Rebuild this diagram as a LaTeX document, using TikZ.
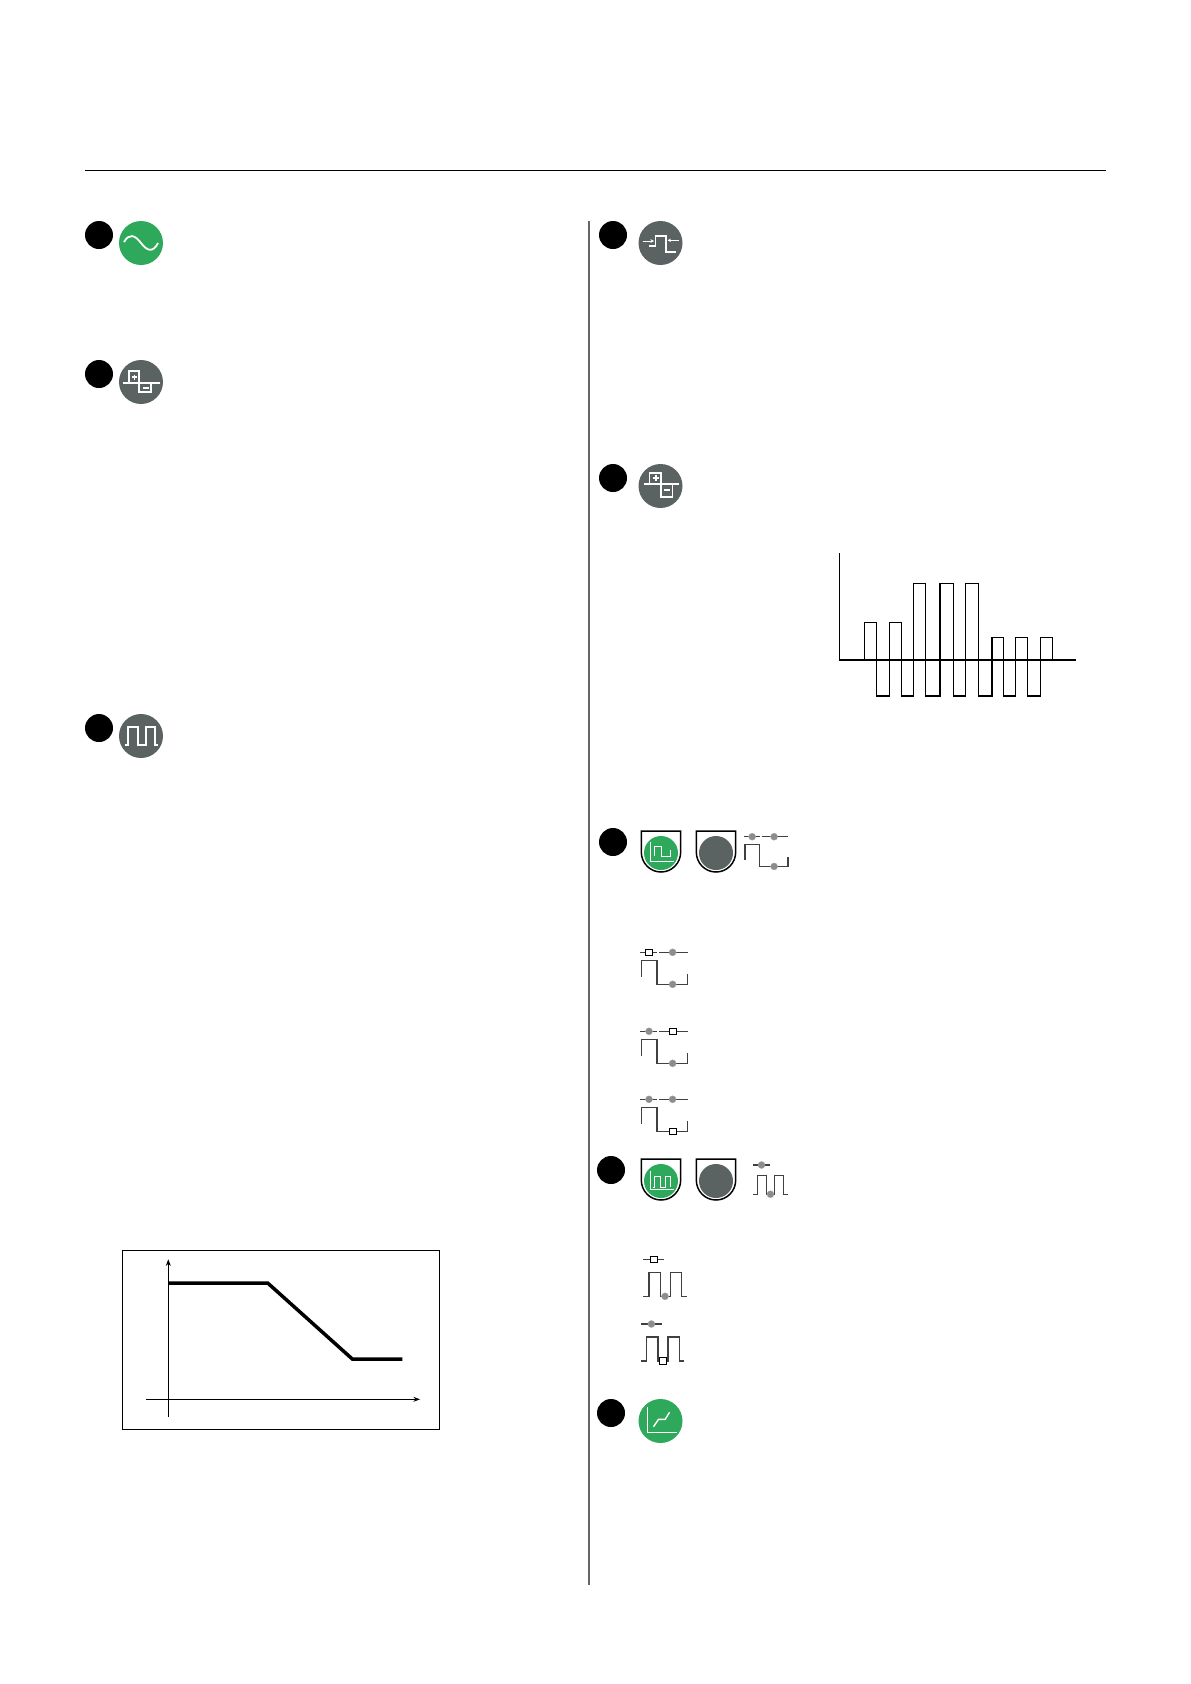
\documentclass[tikz,border=0pt]{standalone}
\usetikzlibrary{arrows.meta}

\definecolor{badgegreen}{RGB}{46,168,90}
\definecolor{badgegray}{RGB}{90,98,98}

\begin{document}
\begin{tikzpicture}[x=1pt, y=-1pt, >=Stealth,
    bullet/.style={circle, fill=black, minimum size=28pt, inner sep=0pt},
    badge/.style={circle, fill=badgegray, minimum size=44pt, inner sep=0pt},
    greenbadge/.style={badge, fill=badgegreen},
    inner/.style={circle, fill=badgegray, minimum size=34pt, inner sep=0pt},
    greeninner/.style={inner, fill=badgegreen},
    glyph/.style={draw=white, line width=1.7pt},
    thin glyph/.style={draw=white, line width=1pt},
    shield/.style={draw=black, line width=1.5pt},
    wave/.style={draw=black!75, line width=1.3pt},
    dotmark/.style={circle, fill=black!45, draw=black!35, minimum size=7pt, inner sep=0pt},
    boxmark/.style={rectangle, fill=white, draw=black, line width=0.7pt, minimum width=7.5pt, minimum height=6.5pt, inner sep=0pt},
    pulse/.style={draw=black, line width=1.4pt}
  ]

  \useasboundingbox (0,0) rectangle (1191,1684);

  % Page rules
  \draw[line width=0.7pt] (85,170) -- (1106,170);
  \draw[draw=black!60, line width=1.3pt] (589,221) -- (589,1585);

  % Numbered bullets
  \node[bullet] (n1) at (99,235) {};
  \node[bullet] (n2) at (99,374) {};
  \node[bullet] (n3) at (99,728) {};
  \node[bullet] (n4) at (613,235) {};
  \node[bullet] (n5) at (613,478) {};
  \node[bullet] (n6) at (613,842) {};
  \node[bullet] (n7) at (611,1170) {};
  \node[bullet] (n8) at (611,1413) {};

  % Round badges
  \node[greenbadge] (sine) at (141,243) {};
  \node[badge] (balance) at (141,382) {};
  \node[badge] (square) at (141,736) {};
  \node[badge] (width) at (660.5,243) {};
  \node[badge] (polar) at (660.5,486) {};
  \node[greenbadge] (ramp) at (660.5,1421) {};

  % Badge glyphs
  \begin{scope}[shift={(sine.center)}]
    \draw[glyph, line width=1.8pt] (-17,-1) .. controls (-12,-10) and (-6,-8) .. (0,0) .. controls (6,8) and (12,10) .. (17,0);
  \end{scope}
  \begin{scope}[shift={(balance.center)}]
    \draw[glyph] (-18,0.7) -- (19,0.7);
    \draw[glyph] (-12,0.7) -- (-12,-11) -- (-2,-11) -- (-2,10) -- (10,10) -- (10,0.7);
    \draw[glyph, line width=1.6pt] (-9,-5) -- (-4.5,-5) (-6.7,-7.5) -- (-6.7,-2.5);
    \draw[glyph, line width=1.6pt] (2,5.7) -- (8,5.7);
  \end{scope}
  \begin{scope}[shift={(square.center)}]
    \draw[glyph] (-16,9.3) -- (-13,9.3) -- (-13,-9) -- (-3.3,-9) -- (-3.3,9.3) -- (5,9.3) -- (5,-9) -- (14,-9) -- (14,9.3) -- (17,9.3);
  \end{scope}
  \begin{scope}[shift={(width.center)}]
    \draw[glyph] (-11.3,3) -- (-5,3) -- (-5,-7) -- (5.7,-7) -- (5.7,9) -- (15.7,9);
    \draw[thin glyph, ->, >={Stealth[length=3.5pt, width=3.5pt]}] (-18,-2) -- (-6.5,-2);
    \draw[thin glyph, ->, >={Stealth[length=3.5pt, width=3.5pt]}] (18.7,-2.7) -- (7,-2.7);
  \end{scope}
  \begin{scope}[shift={(polar.center)}]
    \draw[glyph] (-17,-2.3) -- (18,-2.3);
    \draw[glyph] (-11,-2.3) -- (-11,-13) -- (0.3,-13) -- (0.3,11) -- (12,11) -- (12,-2.3);
    \draw[glyph, line width=2pt] (-8,-7.7) -- (-2,-7.7) (-5,-10.7) -- (-5,-4.7);
    \draw[glyph, line width=2pt] (3,4.3) -- (9,4.3);
  \end{scope}
  \begin{scope}[shift={(ramp.center)}]
    \draw[glyph, line width=1.4pt] (-13.3,-14.3) -- (-13.3,11.3) -- (16.3,11.3);
    \draw[glyph, line width=1.4pt] (-7,5.7) -- (-2,-1.7) -- (4.7,-1.7) -- (9,-8.7);
  \end{scope}

  % Shield badges
  \foreach \name/\cx/\cy/\kind in {shA/661/853/greeninner, shB/716/853/inner, shC/661/1181/greeninner, shD/716/1181/inner} {
    \draw[shield] (\cx-19.7,\cy-22) -- (\cx+19.7,\cy-22) -- (\cx+19.7,\cy-1)
      .. controls (\cx+19.7,\cy+10) and (\cx+11,\cy+19) .. (\cx,\cy+19)
      .. controls (\cx-11,\cy+19) and (\cx-19.7,\cy+10) .. (\cx-19.7,\cy-1) -- cycle;
    \node[\kind] (\name) at (\cx,\cy) {};
  }
  \begin{scope}[shift={(shA.center)}]
    \draw[thin glyph] (-10.3,-11) -- (-10.3,8) -- (13,8);
    \draw[thin glyph] (-6.3,3) -- (-6.3,-6.7) -- (0.3,-6.7) -- (0.3,3) -- (9.3,3) -- (9.3,-2.7);
  \end{scope}
  \begin{scope}[shift={(shC.center)}]
    \draw[thin glyph] (-10.3,-10) -- (-10.3,8.3) -- (12.7,8.3);
    \draw[thin glyph] (-8,6) -- (-6.3,6) -- (-6.3,-4.7) -- (-0.3,-4.7) -- (-0.3,6) -- (4,6) -- (4,-4.7) -- (9.7,-4.7) -- (9.7,6);
  \end{scope}

  % Step symbols
  \foreach \id/\ox/\oy/\sc/\ma/\mb/\mc in {a/745/836.7/0.93/dotmark/dotmark/dotmark,
      b/641.3/952.3/1/boxmark/dotmark/dotmark,
      c/641.3/1031.3/1/dotmark/boxmark/dotmark,
      d/641.3/1099.3/1/dotmark/dotmark/boxmark} {
    \begin{scope}[shift={(\ox,\oy)}, scale=\sc]
      \draw[wave] (-1,0) -- (15.7,0) (18,0) -- (46.3,0);
      \draw[wave] (0,25) -- (0,8) -- (15.7,8) -- (15.7,32) -- (46.3,32) -- (46.3,22);
      \node[\ma] (s\id1) at (7.7,0) {};
      \node[\mb] (s\id2) at (31.3,0) {};
      \node[\mc] (s\id3) at (31.3,32) {};
    \end{scope}
  }

  % Double pulse symbols
  \foreach \id/\ox/\oy/\sc/\ma/\mb in {a/753.3/1165/0.79/dotmark/dotmark,
      b/643.3/1259.3/1/boxmark/dotmark,
      c/641/1324/1/dotmark/boxmark} {
    \begin{scope}[shift={(\ox,\oy)}, scale=\sc]
      \draw[wave] (0,0) -- (20.7,0);
      \draw[wave] (0,37) -- (5.7,37) -- (5.7,13) -- (17,13) -- (17,37) -- (27,37) -- (27,13) -- (38.3,13) -- (38.3,37) -- (43.3,37);
      \node[\ma] (p\id1) at (10.4,0) {};
      \node[\mb] (p\id2) at (21.7,37) {};
    \end{scope}
  }

  % Pulse chart
  \draw[line width=1pt] (839,553) -- (839,660);
  \draw[line width=1.6pt] (839,660) -- (1076,660);
  \draw[pulse] (864.3,660) -- (864.3,622.7) -- (876.7,622.7) -- (876.7,696) -- (889.7,696) -- (889.7,622.7) -- (901.7,622.7) -- (901.7,696)
    -- (913.7,696) -- (913.7,583.3) -- (925.7,583.3) -- (925.7,696) -- (940,696) -- (940,583.3) -- (953.3,583.3) -- (953.3,696)
    -- (965.3,696) -- (965.3,583.3) -- (978.7,583.3) -- (978.7,696) -- (992,696) -- (992,637.3) -- (1003.7,637.3) -- (1003.7,696)
    -- (1015.7,696) -- (1015.7,637.3) -- (1027.7,637.3) -- (1027.7,696) -- (1040.7,696) -- (1040.7,637.3) -- (1052.7,637.3) -- (1052.7,660);

  % Ramp chart
  \draw[line width=0.9pt] (122.7,1250.3) rectangle (439.3,1429.3);
  \draw[->, line width=0.8pt] (168.3,1416.7) -- (168.3,1259.3);
  \draw[->, line width=0.8pt] (146,1399.3) -- (420,1399.3);
  \draw[line width=3.5pt] (168.3,1283) -- (267.7,1283) -- (352.3,1359) -- (402.3,1359);

\end{tikzpicture}
\end{document}
